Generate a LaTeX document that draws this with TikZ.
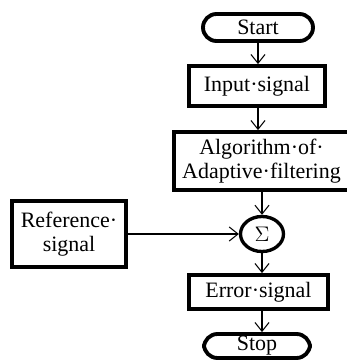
\documentclass[tikz,border=0pt]{standalone}
\usepackage{fontspec}
\setmainfont{Liberation Serif}
\usetikzlibrary{arrows.meta, shapes.geometric}

\begin{document}
\begin{tikzpicture}[>={Straight Barb[length=5pt,width=8pt]},
    box/.style={draw, line width=2.2pt, rectangle, inner sep=1pt, align=center, font=\fontsize{12.5}{13.5}\selectfont},
    term/.style={box, rounded corners=0.27cm},
    sumnode/.style={draw, line width=1.9pt, ellipse, inner sep=0pt, font=\fontsize{12.5}{13.5}\selectfont},
    link/.style={->, line width=0.6pt}]
    \clip (0,0) rectangle (6.94,-7.24);

    \node[term, minimum width=2.2cm, minimum height=0.54cm] (start) at (5.16,-0.55) {Start};
    \node[box, minimum width=2.72cm, minimum height=0.80cm] (input) at (5.14,-1.72) {Input·signal};
    \node[box, minimum width=3.50cm, minimum height=1.16cm] (algo) at (5.23,-3.22) {Algorithm·of·\\Adaptive·filtering};
    \node[sumnode, minimum width=0.86cm, minimum height=0.70cm] (sum) at (5.24,-4.68) {$\Sigma$};
    \node[box, minimum width=2.28cm, minimum height=1.32cm] (ref) at (1.38,-4.68) {Reference·\\signal};
    \node[box, minimum width=2.78cm, minimum height=0.68cm] (error) at (5.17,-5.84) {Error·signal};
    \node[term, minimum width=2.12cm, minimum height=0.48cm] (stop) at (5.14,-6.92) {Stop};

    \draw[link] (start.south -| 5.16,0) -- (input.north -| 5.16,0);
    \draw[link] (input.south -| 5.16,0) -- (algo.north -| 5.16,0);
    \draw[link] (algo.south -| sum.north) -- (sum.north);
    \draw[link] (ref.east) -- (sum.west);
    \draw[link] (sum.south) -- (error.north -| sum.south);
    \draw[link] (error.south -| sum.south) -- (stop.north -| sum.south);
\end{tikzpicture}
\end{document}
